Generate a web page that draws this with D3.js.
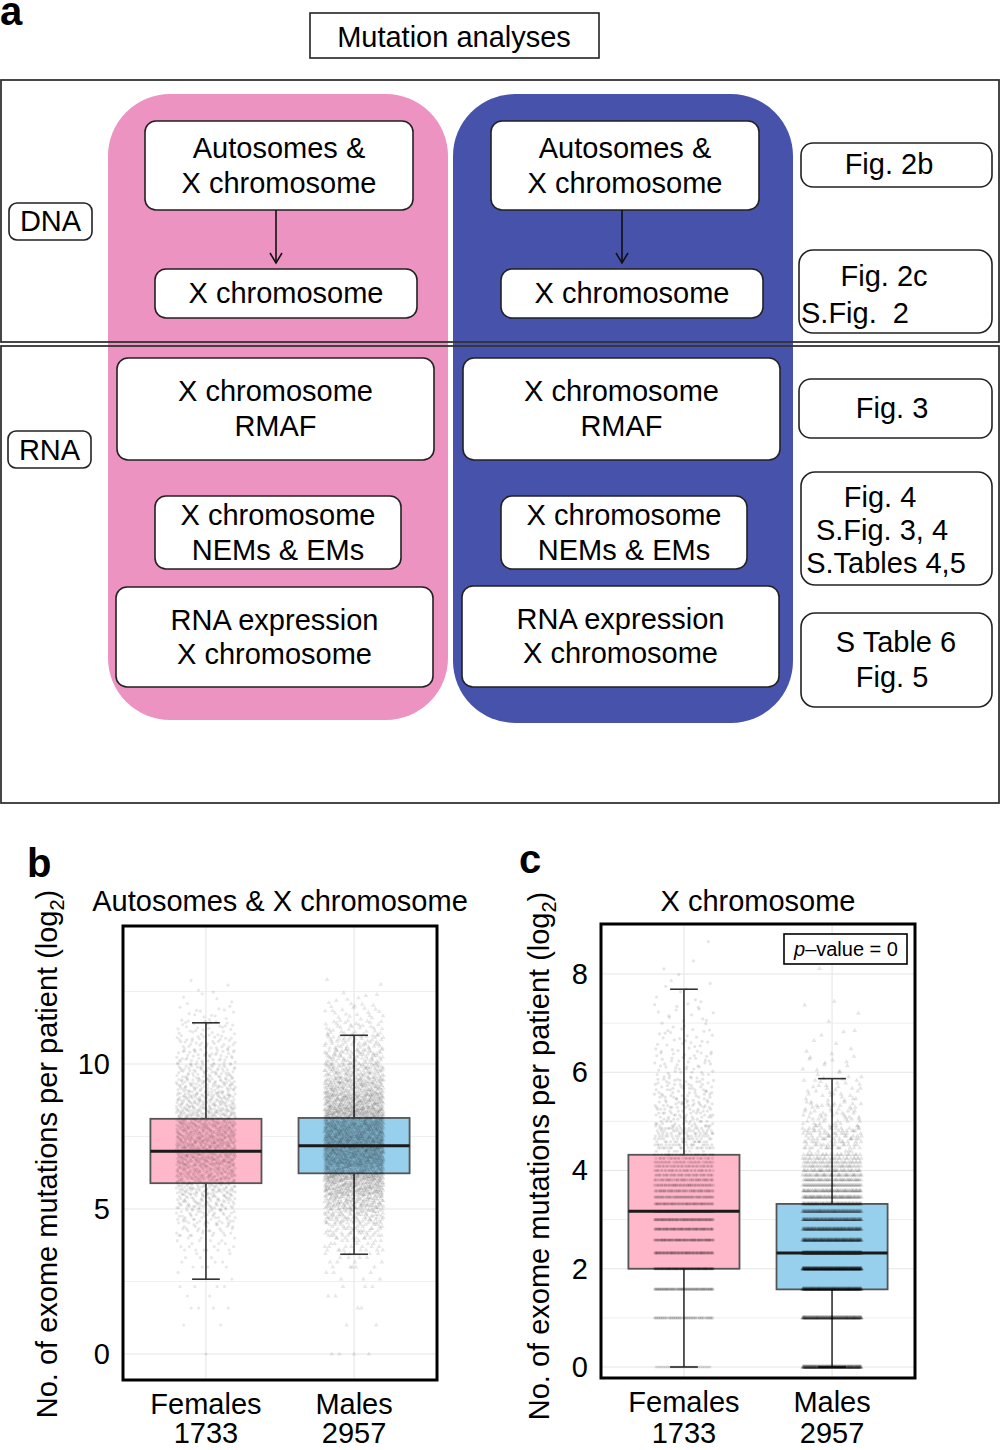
<!DOCTYPE html>
<html><head><meta charset="utf-8">
<script src="https://cdn.jsdelivr.net/npm/d3@7"></script>
<style>
body{margin:0;background:#fff}
text{font-family:"Liberation Sans",Arial,Helvetica,sans-serif;fill:#000;white-space:pre}
</style>
</head><body>
<svg id="fig" width="1000" height="1450" xmlns="http://www.w3.org/2000/svg"></svg>
<script>
// ---------------- DATA ----------------
// Panel a : flow chart texts
const panelTitle = "Mutation analyses";
const rowLabels = ["DNA", "RNA"];
const dnaSteps = [["Autosomes &", "X chromosome"], ["X chromosome"]];
const rnaSteps = [["X chromosome", "RMAF"], ["X chromosome", "NEMs & EMs"], ["RNA expression", "X chromosome"]];
const figRefs = [["Fig. 2b"], ["Fig. 2c", "S.Fig.  2"], ["Fig. 3"], ["Fig. 4", "S.Fig. 3, 4", "S.Tables 4,5"], ["S Table 6", "Fig. 5"]];

// Panels b, c
const groups = ["Females", "Males"];
const groupN = ["1733", "2957"];
const yLabel = "No. of exome mutations per patient (log";
const titleB = "Autosomes & X chromosome";
const titleC = "X chromosome";
const ticksB = [0, 5, 10];
const ticksC = [0, 2, 4, 6, 8];
// box stats: [lower whisker, Q1, median, Q3, upper whisker] (log2)
const statsBFemales = [2.58, 5.89, 6.99, 8.11, 11.42];
const statsBMales   = [3.44, 6.23, 7.18, 8.14, 10.99];
const statsCFemales = [0, 2.0, 3.17, 4.32, 7.69];
const statsCMales   = [0, 1.58, 2.32, 3.32, 5.87];
// point density, panel b: patient counts per log2 bin (bin width 0.5, starting at 0)
const binStartsB = [0,0.5,1,1.5,2,2.5,3,3.5,4,4.5,5,5.5,6,6.5,7,7.5,8,8.5,9,9.5,10,10.5,11,11.5,12,12.5];
const countsBFemales = [1,0,4,2,6,4,10,18,35,55,80,110,140,170,175,165,140,115,90,70,50,40,28,15,6,3];
const countsBMales   = [4,0,3,2,4,8,15,30,55,90,140,200,270,330,340,320,270,210,160,115,80,55,35,20,10,2];
// panel c: patient counts for exactly n = 1..20 X-chromosome mutations
const countsCFemalesByN = [30,60,95,150,100,100,95,95,90,70,60,55,50,45,40,36,32,29,26,24];
const countsCMalesByN   = [250,230,260,380,360,200,170,150,130,110,85,75,65,55,48,42,36,32,28,24];
// panel c tail (n > 20): counts per log2 bin (width 0.5)
const tailStartsC = [4.4,4.9,5.4,5.9,6.4,6.9,7.4,7.9,8.4];
const tailCFemales = [140,90,70,45,30,18,8,3,1];
const tailCMales   = [110,60,35,15,7,3,1,1,0];
const pValueText = "–value = 0";

// ---------------- DRAW ----------------
const svg = d3.select("#fig");
const FS = 29;

// ---- panel a ----
svg.append("text").attr("x", 0).attr("y", 25).attr("font-size", 40).attr("font-weight", "bold").text("a");
svg.append("rect").attr("x", 310).attr("y", 13).attr("width", 289).attr("height", 45)
  .attr("fill", "#fff").attr("stroke", "#222").attr("stroke-width", 1.6);
svg.append("text").attr("x", 454).attr("y", 47).attr("text-anchor", "middle").attr("font-size", FS).text(panelTitle);

// coloured columns
svg.append("rect").attr("x", 108).attr("y", 94).attr("width", 340).attr("height", 626).attr("rx", 62).attr("fill", "#EC93C1");
svg.append("rect").attr("x", 453).attr("y", 94).attr("width", 340).attr("height", 629).attr("rx", 62).attr("fill", "#4753AB");

// section frames
svg.append("rect").attr("x", 1).attr("y", 80).attr("width", 998).attr("height", 262)
  .attr("fill", "none").attr("stroke", "#333").attr("stroke-width", 1.8);
svg.append("rect").attr("x", 1).attr("y", 346).attr("width", 998).attr("height", 457)
  .attr("fill", "none").attr("stroke", "#333").attr("stroke-width", 1.8);

function box(x0, y0, x1, y1, lines, lineY, opts = {}) {
  svg.append("rect").attr("x", x0).attr("y", y0).attr("width", x1 - x0).attr("height", y1 - y0)
    .attr("rx", opts.rx || 11).attr("fill", "#fff").attr("stroke", "#222").attr("stroke-width", 1.6);
  lines.forEach((t, i) => {
    const xs = opts.xs ? opts.xs[i] : (x0 + x1) / 2;
    const anchor = opts.anchors ? opts.anchors[i] : "middle";
    svg.append("text").attr("x", xs).attr("y", lineY[i] + 10.4)
      .attr("text-anchor", anchor).attr("font-size", FS).attr("xml:space", "preserve").text(t);
  });
}
function arrow(x, y0, y1) {
  svg.append("line").attr("x1", x).attr("x2", x).attr("y1", y0).attr("y2", y1)
    .attr("stroke", "#111").attr("stroke-width", 1.6);
  svg.append("path").attr("d", `M${x-6},${y1-10} L${x},${y1} L${x+6},${y1-10}`)
    .attr("fill", "none").attr("stroke", "#111").attr("stroke-width", 1.6);
}
// row labels
box(9, 203, 92, 240, [rowLabels[0]], [221], {rx: 8});
box(8, 431, 91, 468, [rowLabels[1]], [450], {rx: 8});

// pink column (females) and blue column (males)
[0, 346].forEach((dx, k) => {
  const adj = k === 0 ? 0 : -1;
  box(145 + dx, 121, 413 + dx, 210, dnaSteps[0], [148, 183]);
  arrow(276 + dx, 210, 263);
  box(155 + dx, 269, 417 + dx, 318, dnaSteps[1], [293]);
  box(117 + dx, 358, 434 + dx, 460, rnaSteps[0], [391, 426]);
  box(155 + dx, 496, 401 + dx, 569, rnaSteps[1], [515, 550]);
  box(116 + dx, 587 + adj, 433 + dx, 687, rnaSteps[2], [620 + adj, 654 + adj]);
});

// figure reference boxes
box(801, 143, 992, 187, figRefs[0], [164], {xs: [889], rx: 12});
box(799, 250, 992, 333, figRefs[1], [276, 313], {xs: [884, 801], anchors: ["middle", "start"], rx: 14});
box(799, 379, 992, 438, figRefs[2], [408], {xs: [892], rx: 12});
box(801, 472, 992, 585, figRefs[3], [497, 530, 563], {xs: [880, 882, 886], rx: 14});
box(801, 613, 992, 707, figRefs[4], [642, 677], {xs: [896, 892], rx: 14});

// ---- panels b & c ----
// Halton low-discrepancy layout for jitter (layout only, not data)
function halton(i, b) { let f = 1, r = 0; while (i > 0) { f /= b; r += f * (i % b); i = Math.floor(i / b); } return r; }
function expandPoints(countsByN, tailStarts, tailCounts, binW) {
  const pts = [];
  let idx = 1;
  countsByN.forEach((c, i) => {
    for (let j = 0; j < c; j++) { pts.push({v: Math.log2(i + 1), u: halton(idx, 2)}); idx++; }
  });
  tailStarts.forEach((s, k) => {
    const c = tailCounts[k];
    for (let j = 0; j < c; j++) {
      const f = halton(idx, 3);
      const n = Math.max(1, Math.round(Math.pow(2, s + f * binW)));
      pts.push({v: Math.log2(n), u: halton(idx, 2)});
      idx++;
    }
  });
  return pts;
}

function boxPanel(cfg) {
  const g = svg.append("g");
  const x = d3.scalePoint().domain(groups).range([cfg.fx0, cfg.fx1]).padding(0.56);
  const y = d3.scaleLinear().domain(cfg.yDomain).range(cfg.yRange);
  const step = x.step();
  const bw = step * 0.75;
  // grid
  const minor = [];
  for (let i = 0; i < cfg.ticks.length; i++) {
    const m = cfg.ticks[i] + cfg.minorStep;
    if (y(m) > cfg.fy0) minor.push(m);
  }
  g.selectAll(".gmin").data(minor).join("line")
    .attr("x1", cfg.fx0).attr("x2", cfg.fx1).attr("y1", d => y(d)).attr("y2", d => y(d))
    .attr("stroke", "#efefef").attr("stroke-width", 1);
  g.selectAll(".gmaj").data(cfg.ticks).join("line")
    .attr("x1", cfg.fx0).attr("x2", cfg.fx1).attr("y1", d => y(d)).attr("y2", d => y(d))
    .attr("stroke", "#e6e6e6").attr("stroke-width", 1.2);
  g.selectAll(".gv").data(groups).join("line")
    .attr("x1", d => x(d)).attr("x2", d => x(d)).attr("y1", cfg.fy0).attr("y2", cfg.fy1)
    .attr("stroke", "#e9e9e9").attr("stroke-width", 1.2);

  // boxes and whiskers
  const fills = ["#FFB7CA", "#97D0EC"];
  cfg.stats.forEach((s, i) => {
    const cx = x(groups[i]);
    g.append("line").attr("x1", cx).attr("x2", cx).attr("y1", y(s[0])).attr("y2", y(s[1]))
      .attr("stroke", "#333").attr("stroke-width", 1.6);
    g.append("line").attr("x1", cx).attr("x2", cx).attr("y1", y(s[3])).attr("y2", y(s[4]))
      .attr("stroke", "#333").attr("stroke-width", 1.6);
    [s[0], s[4]].forEach(v => g.append("line").attr("x1", cx - bw / 8).attr("x2", cx + bw / 8)
      .attr("y1", y(v)).attr("y2", y(v)).attr("stroke", "#333").attr("stroke-width", 1.6));
    g.append("rect").attr("x", cx - bw / 2).attr("y", y(s[3])).attr("width", bw).attr("height", y(s[1]) - y(s[3]))
      .attr("fill", fills[i]).attr("stroke", "#555").attr("stroke-width", 1.8);
  });

  // jittered points
  const jit = step * 0.2;
  cfg.points.forEach((pts, i) => {
    const cx = x(groups[i]);
    if (i === 0) {
      g.selectAll(null).data(pts).join("circle")
        .attr("cx", d => cx + (d.u - 0.5) * 2 * jit).attr("cy", d => y(d.v)).attr("r", 1.6)
        .attr("fill", "#000").attr("fill-opacity", cfg.alpha);
    } else {
      const tri = d3.symbol().type(d3.symbolTriangle).size(10);
      g.selectAll(null).data(pts).join("path")
        .attr("d", tri).attr("transform", d => `translate(${cx + (d.u - 0.5) * 2 * jit},${y(d.v)})`)
        .attr("fill", "#000").attr("fill-opacity", cfg.alpha);
    }
  });
  // medians on top
  cfg.stats.forEach((s, i) => {
    const cx = x(groups[i]);
    g.append("line").attr("x1", cx - bw / 2).attr("x2", cx + bw / 2).attr("y1", y(s[2])).attr("y2", y(s[2]))
      .attr("stroke", "#1a1a1a").attr("stroke-width", 3);
  });

  // frame
  g.append("rect").attr("x", cfg.fx0).attr("y", cfg.fy0).attr("width", cfg.fx1 - cfg.fx0).attr("height", cfg.fy1 - cfg.fy0)
    .attr("fill", "none").attr("stroke", "#000").attr("stroke-width", 3);

  // y axis ticks
  const ax = g.append("g").attr("transform", `translate(${cfg.fx0},0)`)
    .call(d3.axisLeft(y).tickValues(cfg.ticks).tickSize(0).tickPadding(13).tickFormat(d3.format("d")));
  ax.select(".domain").remove();
  ax.selectAll("text").attr("font-size", FS).attr("font-family", '"Liberation Sans",Arial,sans-serif').attr("fill", "#000");

  // x labels
  groups.forEach((gname, i) => {
    g.append("text").attr("x", x(gname)).attr("y", cfg.fy1 + 34).attr("text-anchor", "middle").attr("font-size", FS).text(gname);
    g.append("text").attr("x", x(gname)).attr("y", 1443).attr("text-anchor", "middle").attr("font-size", FS).text(groupN[i]);
  });

  // title
  g.append("text").attr("x", cfg.titleX).attr("y", 911).attr("text-anchor", "middle").attr("font-size", FS).text(cfg.title);
  // panel letter
  g.append("text").attr("x", cfg.letterX).attr("y", cfg.letterY).attr("font-size", 40).attr("font-weight", "bold").text(cfg.letter);
  // y label
  const yl = g.append("text").attr("transform", `translate(${cfg.ylX},${cfg.ylY}) rotate(-90)`)
    .attr("text-anchor", "middle").attr("font-size", FS);
  yl.append("tspan").text(yLabel);
  yl.append("tspan").attr("dy", 7).attr("font-size", 20).text("2");
  yl.append("tspan").attr("dy", -7).text(")");
  return {g, x, y};
}

boxPanel({
  fx0: 123, fx1: 437, fy0: 926, fy1: 1380,
  yDomain: [0, 10], yRange: [1354, 1064],
  ticks: ticksB, minorStep: 2.5,
  stats: [statsBFemales, statsBMales],
  points: [expandPoints([], binStartsB, countsBFemales, 0.5), expandPoints([], binStartsB, countsBMales, 0.5)],
  alpha: 0.09,
  title: titleB, titleX: 280, letter: "b", letterX: 27, letterY: 877, ylX: 57, ylY: 1154
});

boxPanel({
  fx0: 601, fx1: 915, fy0: 924, fy1: 1378,
  yDomain: [0, 8], yRange: [1367, 974],
  ticks: ticksC, minorStep: 1,
  stats: [statsCFemales, statsCMales],
  points: [expandPoints(countsCFemalesByN, tailStartsC, tailCFemales, 0.5), expandPoints(countsCMalesByN, tailStartsC, tailCMales, 0.5)],
  alpha: 0.1,
  title: titleC, titleX: 758, letter: "c", letterX: 519, letterY: 873, ylX: 549, ylY: 1156
});

// p-value label
svg.append("rect").attr("x", 784).attr("y", 934).attr("width", 123).attr("height", 30)
  .attr("fill", "#fff").attr("stroke", "#000").attr("stroke-width", 1.6);
const pv = svg.append("text").attr("x", 846).attr("y", 956).attr("text-anchor", "middle").attr("font-size", 20);
pv.append("tspan").attr("font-style", "italic").text("p");
pv.append("tspan").text(pValueText);
</script>
</body></html>
